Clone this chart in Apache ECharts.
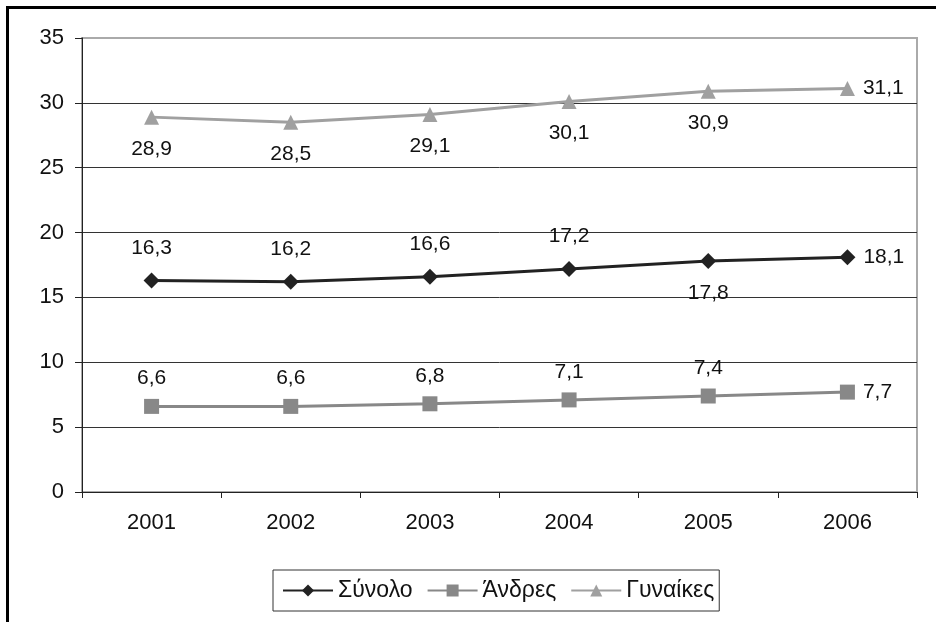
<!DOCTYPE html>
<html>
<head>
<meta charset="utf-8">
<script src="https://cdn.jsdelivr.net/npm/echarts@6/dist/echarts.min.js"></script>
<style>
    html, body { margin: 0; padding: 0; background: #fff; }
    #wrap { width: 936px; height: 622px; position: relative; }
    #main { width: 936px; height: 622px; position: absolute; left: 0; top: 0; }
    .frame {
        position: absolute; left: 6px; top: 6px; width: 930px; height: 616px;
        border-left: 3px solid #000; border-top: 3px solid #000;
        pointer-events: none; z-index: 5; box-sizing: border-box;
    }
</style>
</head>
<body>
<div id="wrap">
    <div id="main"></div>
    <div class="frame"></div>
</div>
<script>
// categories
const years = ['2001', '2002', '2003', '2004', '2005', '2006'];
// series values
const synolo = [16.3, 16.2, 16.6, 17.2, 17.8, 18.1];
const andres = [6.6, 6.6, 6.8, 7.1, 7.4, 7.7];
const gynaikes = [28.9, 28.5, 29.1, 30.1, 30.9, 31.1];
// label placement per point
const synoloPos = ['top', 'top', 'top', 'top', 'bottom', 'right'];
const andresPos = ['top', 'top', 'top', 'top', 'top', 'right'];
const gynaikesPos = ['bottom', 'bottom', 'bottom', 'bottom', 'bottom', 'right'];

const font = 'Liberation Sans, Arial, sans-serif';

function points(values, pos, dist) {
    return values.map((v, i) => ({
        value: v,
        label: { position: pos[i], distance: pos[i] === 'right' ? 8 : dist }
    }));
}

function lineSeries(name, values, pos, dist, color, symbol, size) {
    return {
        name: name,
        type: 'line',
        data: points(values, pos, dist),
        symbol: symbol,
        symbolSize: size,
        lineStyle: { color: color, width: 3 },
        itemStyle: { color: color },
        label: {
            show: true,
            color: '#111',
            fontFamily: font,
            fontSize: 21,
            formatter: p => String(p.value).replace('.', ',')
        }
    };
}

const myChart = echarts.init(document.getElementById('main'));
const option = {
    animation: false,
    grid: {
        left: 82, right: 19, top: 38, bottom: 130,
        show: true, borderColor: '#aaa', borderWidth: 2
    },
    xAxis: {
        type: 'category',
        data: years,
        boundaryGap: true,
        axisLine: { lineStyle: { color: '#222', width: 1 } },
        axisTick: { show: true, interval: 0, length: 6, lineStyle: { color: '#222' } },
        axisLabel: { color: '#111', fontFamily: font, fontSize: 22, margin: 20, interval: 0 }
    },
    yAxis: {
        type: 'value',
        min: 0,
        max: 35,
        interval: 5,
        axisLine: { show: true, lineStyle: { color: '#222', width: 1 } },
        axisTick: { show: true, length: 7, lineStyle: { color: '#222' } },
        axisLabel: { color: '#111', fontFamily: font, fontSize: 22, margin: 18 },
        splitLine: {
            lineStyle: {
                color: ['#333', '#333', '#333', '#333', '#333', '#333', '#333', '#aaa'],
                width: 1
            }
        }
    },
    legend: {
        bottom: 11,
        left: 273,
        itemGap: 14,
        itemWidth: 50,
        itemHeight: 15,
        borderColor: '#333',
        borderWidth: 1,
        padding: [9, 5, 9, 9],
        textStyle: { color: '#111', fontFamily: font, fontSize: 23 },
        data: ['Σύνολο', 'Άνδρες', 'Γυναίκες']
    },
    series: [
        lineSeries('Σύνολο', synolo, synoloPos, 14, '#222', 'diamond', 16),
        lineSeries('Άνδρες', andres, andresPos, 10, '#888', 'rect', 15),
        lineSeries('Γυναίκες', gynaikes, gynaikesPos, 14, '#a0a0a0', 'triangle', 15)
    ]
};
myChart.setOption(option);
</script>
</body>
</html>
